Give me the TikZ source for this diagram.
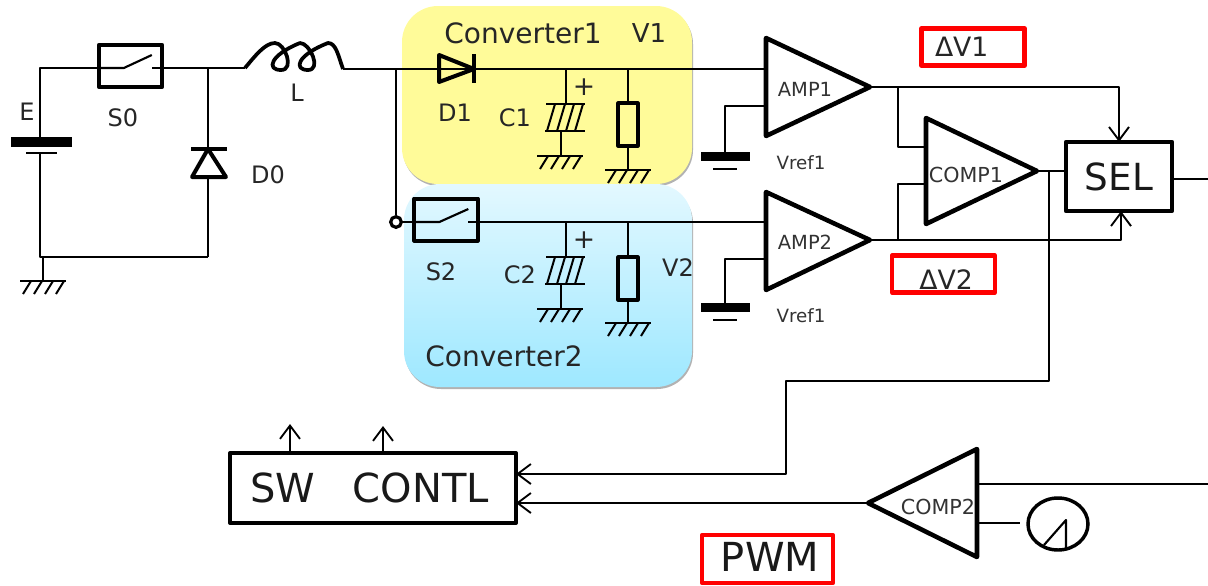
\documentclass[tikz,border=0pt]{standalone}
\usepackage{fontspec}
\setmainfont{DejaVu Sans}
\usetikzlibrary{arrows.meta}
\definecolor{yellowbox}{HTML}{FFFB99}
\definecolor{bluetop}{HTML}{E3F8FF}
\definecolor{bluebot}{HTML}{9EE8FF}
\definecolor{labelgray}{HTML}{333333}
\definecolor{redbox}{HTML}{FF0000}
\newcommand{\fsz}[1]{\fontsize{#1}{#1}\selectfont}
\tikzset{
  wire/.style={line width=1.6pt,line join=round},
  arrowwire/.style={wire,-{Straight Barb[length=10pt,width=15pt,line width=1.4pt]}},
  thickbox/.style={draw,line width=3pt,rectangle,inner sep=0pt,outer sep=0pt,line join=round},
  swbox/.style={thickbox,minimum width=47.5pt,minimum height=31.5pt},
  redlabel/.style={draw=redbox,line width=3.4pt,rectangle,inner sep=0pt,outer sep=0pt,line join=round},
  symb/.style={line width=3pt,line join=round},
  triline/.style={line width=3.4pt,line join=round},
  txt/.style={inner sep=0pt,outer sep=0pt,text=black!85,font=\fsz{18}},
  bigtxt/.style={txt,font=\fsz{21}},
  amptxt/.style={inner sep=0pt,outer sep=0pt,text=labelgray,font=\fsz{14.6}},
  comptxt/.style={inner sep=0pt,outer sep=0pt,text=labelgray,font=\fsz{15.5}},
  vreftxt/.style={inner sep=0pt,outer sep=0pt,text=labelgray,font=\fsz{13.7}},
  gndsym/.pic={
    \draw[line width=1.5pt] (-23,0) -- (23,0);
    \foreach \i in {-20,-9,2,13}{\draw[line width=1.5pt] (\i+8,0) -- (\i,13);}
  },
  capsym/.pic={
    \draw[line width=1.5pt] (-20,0) -- (19,0) (-21,27) -- (19,27);
    \foreach \i in {-11,-1,8,17}{\draw[line width=1.5pt] (\i,0) -- ++(-8,27);}
  },
  refsym/.pic={
    \fill (-24.5,0) rectangle (24.5,9);
    \draw[line width=1.5pt] (-12,16.5) -- (12,16.5);
  },
  resbox/.style={thickbox,minimum width=14.5pt,minimum height=32pt}
}
\begin{document}
\begin{tikzpicture}[x=0.75pt,y=-0.75pt]
\useasboundingbox (0,0) rectangle (1208,586);
% converter backgrounds
\fill[black!30,rounded corners=27pt] (403,8) rectangle (693,186);
\fill[yellowbox,rounded corners=27pt] (402,6) rectangle (692,184);
\fill[black!30,rounded corners=27pt] (405,187) rectangle (693,389);
\shade[top color=bluetop,bottom color=bluebot,rounded corners=27pt] (404,184) rectangle (692,387);

% named points
\coordinate (tl) at (40,68);
\coordinate (bl) at (40,257);
\coordinate (jn0) at (208,68);
\coordinate (jn0b) at (208,257);
\coordinate (lin) at (245,68);
\coordinate (lout) at (343,69);
\coordinate (split) at (396,69);

% boxes
\node[swbox] (s0) at (130.5,66) {};
\node[swbox] (s2) at (446,219.5) {};
\coordinate (s0w) at (s0.west |- tl);
\coordinate (s0e) at (s0.east |- tl);
\node[thickbox,minimum width=79.5pt,minimum height=52pt,font=\fsz{28},text=black!90] (sel) at (1119,176.5) {SEL};
\node[thickbox,minimum width=214.5pt,minimum height=52.5pt,font=\fsz{30},text=black!90,text depth=0pt] (ctl) at (373,488) {\hspace{-5pt}SW\hspace{28pt}CONTL};
\node[resbox] (r1) at (628,124.5) {};
\node[resbox] (r2) at (628,278.5) {};
\node[inner sep=0pt,minimum size=1pt] (ramp) at (1058,524) {};

% battery + main loop
\coordinate (batt) at (40,137);
\coordinate (battb) at (40,153);
\fill (11,137) rectangle (72,147);
\draw[line width=1.5pt] (26,153) -- (57,153);
\draw[wire] (batt) -- (tl) -- (s0w);
\draw[wire] (battb) -- (bl) -- (jn0b);
\draw[wire] (s0e) -- (jn0) -- (lin);
% S0 contact
\draw[wire] (s0w) -- ++(25,0) -- ++(28,-13);
\draw[wire] (s0e) -- ++(-10,0);
% ground of E
\coordinate (g0) at (43,281);
\draw[wire] (43,257) -- (g0);
\pic at (g0) {gndsym};
% D0
\coordinate (d0k) at (208,149);
\coordinate (d0a) at (208,177);
\draw[wire] (jn0) -- (d0k);
\draw[wire] (d0a) -- (jn0b);
\draw[symb] (191,149) -- (227,149);
\draw[symb] (d0k) -- (192,177) -- (226,177) -- cycle;
% L
\draw[line width=2.8pt,line join=round] (lin)
  .. controls (255,56) and (265,43) .. (275,43)
  .. controls (285,43) and (295,70) .. (281,70)
  .. controls (266,70) and (270,55) .. (300,43)
  .. controls (310,43) and (322,70) .. (308,70)
  .. controls (293,70) and (297,55) .. (328,43)
  .. controls (336,43) and (338,55) .. (lout);
\draw[wire] (lout) -- (split);
\node[draw,circle,line width=2.4pt,inner sep=0pt,minimum size=8pt,fill=white] (o) at (396,222) {};
\draw[wire] (split) -- (o);
\coordinate (s2w) at (s2.west |- o);
\coordinate (s2e) at (s2.east |- o);

% top rail
\coordinate (d1k) at (474,69);
\coordinate (c1t) at (566,69);
\coordinate (r1t) at (628,69);
\coordinate (amp1p) at (765,69);
\draw[wire] (split) -- (amp1p);
\draw[symb] (439,55) -- (439,82) -- (d1k) -- cycle;
\draw[line width=3.4pt] (474,54) -- (474,83);
\draw[wire] (c1t) -- (566,104);
\pic at (566,104) {capsym};
\draw[wire] (561,131) -- (561,156);
\pic at (560,156) {gndsym};
\draw[wire] (r1t) -- (r1.north);
\draw[wire] (r1.south) -- (628,170);
\pic at (628,170) {gndsym};

% lower rail
\coordinate (c2t) at (566,222);
\coordinate (r2t) at (628,222);
\coordinate (amp2p) at (765,222);
\draw[wire] (o) -- (s2w);
\draw[wire] (s2w) -- ++(25,0) -- ++(29,-13);
\draw[wire] (s2e) -- ++(-10,0);
\draw[wire] (s2e) -- (amp2p);
\draw[wire] (c2t) -- (566,257);
\pic at (566,257) {capsym};
\draw[wire] (561,284) -- (561,309);
\pic at (560,309) {gndsym};
\draw[wire] (r2t) -- (r2.north);
\draw[wire] (r2.south) -- (628,323);
\pic at (628,323) {gndsym};

% amplifiers
\coordinate (a1t) at (766,38); \coordinate (a1b) at (766,136); \coordinate (a1o) at (870,87);
\coordinate (a2t) at (766,192); \coordinate (a2b) at (766,290); \coordinate (a2o) at (870,240);
\coordinate (c1top) at (926,118); \coordinate (c1bot) at (926,224); \coordinate (c1o) at (1037,171);
\coordinate (c2a) at (868,503); \coordinate (c2top) at (977,449); \coordinate (c2bot) at (977,557);
\draw[triline] (a1t) -- (a1o) -- (a1b) -- cycle;
\draw[triline] (a2t) -- (a2o) -- (a2b) -- cycle;
\draw[triline] (c1top) -- (c1o) -- (c1bot) -- cycle;
\draw[triline] (c2a) -- (c2top) -- (c2bot) -- cycle;
\node[amptxt] (amp1) at (805,89) {AMP1};
\node[amptxt] (amp2) at (805,242) {AMP2};
\node[comptxt] (comp1) at (966,175) {COMP1};
\node[comptxt] (comp2) at (938,507) {COMP2};

% references
\coordinate (ref1) at (725,152);
\coordinate (ref2) at (725,303);
\pic at (ref1) {refsym};
\pic at (ref2) {refsym};
\draw[wire] (765,106) -- (725,106) -- (ref1);
\draw[wire] (765,259) -- (725,259) -- (ref2);

% signal wiring
\coordinate (bra) at (898,87);
\coordinate (brb) at (898,240);
\coordinate (jc) at (1049,171);
\draw[arrowwire] (a1o) -- (1119,87) -- (sel.north);
\draw[arrowwire] (a2o) -- (1121,240) -- (sel.south -| 1121,0);
\draw[wire] (bra) -- (898,147) -- (926,147);
\draw[wire] (brb) -- (898,184) -- (926,184);
\draw[wire] (c1o) -- (sel.west |- c1o);
\draw[wire] (sel.east |- 0,179) -- (1208,179);
\draw[arrowwire] (jc) -- (1049,381) -- (786,381) -- (786,474) -- (ctl.east |- 0,474);
\draw[arrowwire] (c2a) -- (ctl.east |- 0,503);
\draw[arrowwire] (290,453) -- (290,424);
\draw[arrowwire] (383,453) -- (383,426);
\draw[wire] (977,484) -- (1208,484);
\draw[wire] (977,523) -- (1020,523);

% ramp source
\draw[line width=2.6pt] (ramp) ellipse (30 and 26);
\draw[wire] (1044,545) -- (1066,520) -- (1066,549);

% labels
\node[txt] (tE) at (27,112) {E};
\node[txt] (tS0) at (123,118) {S0};
\node[txt] (tD0) at (268,175) {D0};
\node[txt] (tL) at (297,93) {L};
\node[bigtxt] (tC1) at (523,33) {Converter1};
\node[txt,font=\fsz{19.5}] (tV1) at (649,33) {V1};
\node[txt] (tD1) at (455,113) {D1};
\node[txt] (tCa) at (515,118) {C1};
\node[txt,font=\fsz{20}] (tp1) at (584,87) {+};
\node[txt,font=\fsz{20}] (tp2) at (584,240) {+};
\node[txt] (tS2) at (441,272) {S2};
\node[txt] (tCb) at (520,275) {C2};
\node[txt] (tV2) at (678,268) {V2};
\node[bigtxt] (tC2) at (504,356) {Converter2};
\node[vreftxt] (tr1) at (801,163) {Vref1};
\node[vreftxt] (tr2) at (801,316) {Vref1};

% red callouts
\node[redlabel,minimum width=77pt,minimum height=28pt] (dv1box) at (973,47) {};
\node[redlabel,minimum width=77pt,minimum height=28pt] (dv2box) at (943.5,274) {};
\node[redlabel,minimum width=98pt,minimum height=36pt] (pwmbox) at (767.5,559) {};
\node[txt,font=\fsz{20},anchor=west] (dv1) at (935,47) {ΔV1};
\node[txt,font=\fsz{20}] (dv2) at (946,280) {ΔV2};
\node[txt,font=\fsz{30},text=black!90] (pwm) at (770,557) {PWM};
\end{tikzpicture}
\end{document}
